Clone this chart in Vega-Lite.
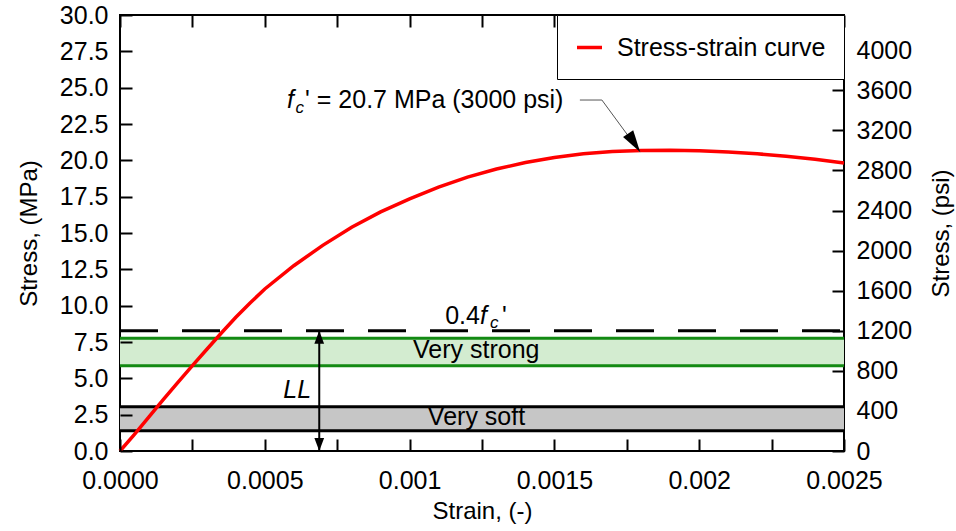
{
  "$schema": "https://vega.github.io/schema/vega-lite/v6.json",
  "width": 724,
  "height": 436,
  "autosize": {"type": "none"},
  "padding": {"left": 120, "top": 15, "right": 112, "bottom": 80},
  "background": "white",
  "config": {
    "font": "Liberation Sans",
    "view": {"stroke": "black", "strokeWidth": 2},
    "axis": {
      "labelFont": "Liberation Sans", "labelFontSize": 25, "labelColor": "black",
      "titleFont": "Liberation Sans", "titleFontSize": 24, "titleFontWeight": "normal", "titleColor": "black",
      "ticks": true, "tickColor": "black", "tickOpacity": 1, "tickWidth": 2, "tickSize": -12, "domain": false, "grid": false,
      "labelFlush": false, "labelOverlap": false, "zindex": 1
    }
  },
  "datasets": {
    "curve": [
      {"strain": 0, "stress": 0},
      {"strain": 0.00005, "stress": 1.15},
      {"strain": 0.0001, "stress": 2.35},
      {"strain": 0.00015, "stress": 3.55},
      {"strain": 0.0002, "stress": 4.72},
      {"strain": 0.00025, "stress": 5.88},
      {"strain": 0.0003, "stress": 7.0},
      {"strain": 0.00035, "stress": 8.12},
      {"strain": 0.0004, "stress": 9.2},
      {"strain": 0.00045, "stress": 10.2},
      {"strain": 0.0005, "stress": 11.15},
      {"strain": 0.0006, "stress": 12.75},
      {"strain": 0.0007, "stress": 14.15},
      {"strain": 0.0008, "stress": 15.4},
      {"strain": 0.0009, "stress": 16.45},
      {"strain": 0.001, "stress": 17.35},
      {"strain": 0.0011, "stress": 18.15},
      {"strain": 0.0012, "stress": 18.85},
      {"strain": 0.0013, "stress": 19.4},
      {"strain": 0.0014, "stress": 19.85},
      {"strain": 0.0015, "stress": 20.2},
      {"strain": 0.0016, "stress": 20.45},
      {"strain": 0.0017, "stress": 20.6},
      {"strain": 0.0018, "stress": 20.68},
      {"strain": 0.0019, "stress": 20.7},
      {"strain": 0.002, "stress": 20.66},
      {"strain": 0.0021, "stress": 20.58},
      {"strain": 0.0022, "stress": 20.45},
      {"strain": 0.0023, "stress": 20.28},
      {"strain": 0.0024, "stress": 20.08},
      {"strain": 0.0025, "stress": 19.82}
    ],
    "bands": [
      {"band": "Very soft", "lo": 1.4, "hi": 3.05},
      {"band": "Very strong", "lo": 5.87, "hi": 7.75}
    ]
  },
  "layer": [
    {
      "data": {"values": [{"psi": 0}, {"psi": 4351.13}]},
      "mark": {"type": "point", "opacity": 0},
      "encoding": {
        "x": {
          "datum": 0, "type": "quantitative",
          "scale": {"domain": [0, 0.0025], "nice": false, "zero": false},
          "axis": {
            "orient": "top",
            "values": [0, 0.00025, 0.0005, 0.00075, 0.001, 0.00125, 0.0015, 0.00175, 0.002, 0.00225, 0.0025],
            "labels": false,
            "ticks": true,
            "tickSize": -12,
            "title": null
          }
        },
        "y": {
          "field": "psi", "type": "quantitative",
          "scale": {"domain": [0, 4351.13], "nice": false},
          "axis": {
            "orient": "right",
            "values": [0, 400, 800, 1200, 1600, 2000, 2400, 2800, 3200, 3600, 4000],
            "format": "d",
            "labelPadding": 24,
            "labelOverlap": false,
            "ticks": true,
            "tickSize": -12,
            "title": "Stress,  (psi)",
            "titleAngle": 270,
            "titleBaseline": "top",
            "titlePadding": 18
          }
        }
      }
    },
    {
      "layer": [
        {
          "data": {"name": "bands"},
          "transform": [{"filter": "datum.band == 'Very strong'"}],
          "mark": {"type": "rect", "fill": "#d3ecd0"},
          "encoding": {
            "x": {"datum": 0, "type": "quantitative", "axis": null},
            "x2": {"datum": 0.0025},
            "y": {"field": "lo", "type": "quantitative", "scale": {"domain": [0, 30], "nice": false, "zero": true}, "axis": null},
            "y2": {"field": "hi"}
          }
        },
        {
          "data": {"name": "bands"},
          "transform": [{"filter": "datum.band == 'Very soft'"}],
          "mark": {"type": "rect", "fill": "#c6c6c6"},
          "encoding": {
            "x": {"datum": 0, "type": "quantitative", "axis": null},
            "x2": {"datum": 0.0025},
            "y": {"field": "lo", "type": "quantitative", "axis": null},
            "y2": {"field": "hi"}
          }
        },
        {
          "data": {"name": "bands"},
          "transform": [{"filter": "datum.band == 'Very strong'"}, {"fold": ["lo", "hi"], "as": ["edge", "stress"]}],
          "mark": {"type": "rule", "stroke": "#138a13", "strokeWidth": 3},
          "encoding": {
            "x": {"datum": 0, "type": "quantitative", "axis": null},
            "x2": {"datum": 0.0025},
            "y": {"field": "stress", "type": "quantitative", "axis": null}
          }
        },
        {
          "data": {"name": "bands"},
          "transform": [{"filter": "datum.band == 'Very soft'"}, {"fold": ["lo", "hi"], "as": ["edge", "stress"]}],
          "mark": {"type": "rule", "stroke": "black", "strokeWidth": 3},
          "encoding": {
            "x": {"datum": 0, "type": "quantitative", "axis": null},
            "x2": {"datum": 0.0025},
            "y": {"field": "stress", "type": "quantitative", "axis": null}
          }
        },
        {
          "data": {"values": [{"label": "0.4fc", "stress": 8.27}]},
          "mark": {"type": "rule", "stroke": "black", "strokeWidth": 3, "strokeDash": [38, 24]},
          "encoding": {
            "x": {"datum": 0, "type": "quantitative", "axis": null},
            "x2": {"datum": 0.0025},
            "y": {"field": "stress", "type": "quantitative", "axis": null}
          }
        },
        {
          "data": {"values": [{"strain": 0.000688, "lo": 0, "hi": 8.27}]},
          "mark": {"type": "rule", "stroke": "black", "strokeWidth": 2},
          "encoding": {
            "x": {"field": "strain", "type": "quantitative", "axis": null},
            "y": {"field": "lo", "type": "quantitative", "axis": null},
            "y2": {"field": "hi"}
          }
        },
        {
          "data": {"values": [{"strain": 0.000688, "stress": 0}]},
          "mark": {"type": "point", "shape": "M0,0L-0.75,-2L0.75,-2Z", "size": 169, "filled": true, "fill": "black", "opacity": 1, "strokeWidth": 0, "angle": 0},
          "encoding": {
            "x": {"field": "strain", "type": "quantitative", "axis": null},
            "y": {"field": "stress", "type": "quantitative", "axis": null}
          }
        },
        {
          "data": {"values": [{"strain": 0.000688, "stress": 8.27}]},
          "mark": {"type": "point", "shape": "M0,0L-0.75,-2L0.75,-2Z", "size": 169, "filled": true, "fill": "black", "opacity": 1, "strokeWidth": 0, "angle": 180},
          "encoding": {
            "x": {"field": "strain", "type": "quantitative", "axis": null},
            "y": {"field": "stress", "type": "quantitative", "axis": null}
          }
        },
        {
          "data": {"name": "curve"},
          "mark": {"type": "line", "strokeWidth": 3.5},
          "encoding": {
            "x": {"field": "strain", "type": "quantitative", "axis": null},
            "y": {"field": "stress", "type": "quantitative", "axis": null},
            "color": {
              "datum": "Stress-strain curve",
              "type": "nominal",
              "scale": {"range": ["#ff0000"]},
              "legend": {
                "title": null, "orient": "top-right", "offset": 0, "padding": 18,
                "strokeColor": "black", "fillColor": "white",
                "labelFontSize": 25, "labelFont": "Liberation Sans", "labelColor": "black", "labelLimit": 500,
                "symbolType": "stroke", "symbolSize": 625, "symbolStrokeWidth": 3.5, "labelOffset": 13
              }
            }
          }
        },
        {
          "data": {"values": [{"strain": 0.001588, "stress": 24.15}, {"strain": 0.001664, "stress": 24.15}, {"strain": 0.001796, "stress": 20.57}]},
          "mark": {"type": "line", "stroke": "#555555", "strokeWidth": 1},
          "encoding": {
            "x": {"field": "strain", "type": "quantitative", "axis": null},
            "y": {"field": "stress", "type": "quantitative", "axis": null}
          }
        },
        {
          "data": {"values": [{"strain": 0.001796, "stress": 20.57}]},
          "mark": {"type": "point", "shape": "M0,0L-0.55,-2L0.55,-2Z", "size": 484, "filled": true, "fill": "black", "opacity": 1, "strokeWidth": 0, "angle": -33},
          "encoding": {
            "x": {"field": "strain", "type": "quantitative", "axis": null},
            "y": {"field": "stress", "type": "quantitative", "axis": null}
          }
        },
        {
          "data": {"values": [{"t": "' = 20.7 MPa (3000 psi)", "strain": 0.000639, "stress": 23.58}, {"t": "'", "strain": 0.001319, "stress": 8.74}]},
          "mark": {"type": "text", "align": "left", "baseline": "alphabetic", "fontSize": 25, "font": "Liberation Sans", "color": "black"},
          "encoding": {
            "x": {"field": "strain", "type": "quantitative", "axis": null},
            "y": {"field": "stress", "type": "quantitative", "axis": null},
            "text": {"field": "t"}
          }
        },
        {
          "data": {"values": [{"t": "0.4", "strain": 0.001243, "stress": 8.74}]},
          "mark": {"type": "text", "align": "right", "baseline": "alphabetic", "fontSize": 25, "font": "Liberation Sans", "color": "black"},
          "encoding": {
            "x": {"field": "strain", "type": "quantitative", "axis": null},
            "y": {"field": "stress", "type": "quantitative", "axis": null},
            "text": {"field": "t"}
          }
        },
        {
          "data": {"values": [{"t": "f", "strain": 0.000577, "stress": 23.58}, {"t": "f", "strain": 0.001243, "stress": 8.74}]},
          "mark": {"type": "text", "align": "left", "baseline": "alphabetic", "fontSize": 25, "fontStyle": "italic", "font": "Liberation Sans", "color": "black"},
          "encoding": {
            "x": {"field": "strain", "type": "quantitative", "axis": null},
            "y": {"field": "stress", "type": "quantitative", "axis": null},
            "text": {"field": "t"}
          }
        },
        {
          "data": {"values": [{"t": "c", "strain": 0.000606, "stress": 23.26}, {"t": "c", "strain": 0.001278, "stress": 8.44}]},
          "mark": {"type": "text", "align": "left", "baseline": "alphabetic", "fontSize": 17, "fontStyle": "italic", "font": "Liberation Sans", "color": "black"},
          "encoding": {
            "x": {"field": "strain", "type": "quantitative", "axis": null},
            "y": {"field": "stress", "type": "quantitative", "axis": null},
            "text": {"field": "t"}
          }
        },
        {
          "data": {"values": [{"t": "Very strong", "strain": 0.00123, "stress": 6.38}, {"t": "Very soft", "strain": 0.001231, "stress": 1.79}]},
          "mark": {"type": "text", "align": "center", "baseline": "alphabetic", "fontSize": 25, "font": "Liberation Sans", "color": "black"},
          "encoding": {
            "x": {"field": "strain", "type": "quantitative", "axis": null},
            "y": {"field": "stress", "type": "quantitative", "axis": null},
            "text": {"field": "t"}
          }
        },
        {
          "data": {"values": [{"t": "LL", "strain": 0.00066, "stress": 3.65}]},
          "mark": {"type": "text", "align": "right", "baseline": "alphabetic", "fontSize": 25, "fontStyle": "italic", "font": "Liberation Sans", "color": "black"},
          "encoding": {
            "x": {"field": "strain", "type": "quantitative", "axis": null},
            "y": {"field": "stress", "type": "quantitative", "axis": null},
            "text": {"field": "t"}
          }
        }
      ]
    },
    {
      "data": {"values": [{"stress": 0}, {"stress": 30}]},
      "mark": {"type": "point", "opacity": 0},
      "encoding": {
        "x": {
          "datum": 0, "type": "quantitative",
          "axis": {
            "orient": "bottom",
            "values": [0, 0.00025, 0.0005, 0.00075, 0.001, 0.00125, 0.0015, 0.00175, 0.002, 0.00225, 0.0025],
            "labelExpr": "abs(datum.value/0.0005 - round(datum.value/0.0005)) < 0.001 ? (datum.value == 0 ? '0.0000' : format(datum.value, '~g')) : ''",
            "labelPadding": 29,
            "labelOverlap": false,
            "ticks": true,
            "tickSize": -12,
            "tickColor": "black",
            "tickWidth": 2,
            "tickOpacity": 1,
            "zindex": 2,
            "title": "Strain, (-)",
            "titlePadding": 6
          }
        },
        "y": {
          "field": "stress", "type": "quantitative",
          "scale": {"domain": [0, 30], "nice": false, "zero": true},
          "axis": {
            "orient": "left",
            "values": [0, 2.5, 5, 7.5, 10, 12.5, 15, 17.5, 20, 22.5, 25, 27.5, 30],
            "format": ".1f",
            "labelPadding": 24,
            "labelOverlap": false,
            "ticks": true,
            "tickSize": -12,
            "tickColor": "black",
            "tickWidth": 2,
            "tickOpacity": 1,
            "zindex": 2,
            "title": "Stress,  (MPa)",
            "titlePadding": 18
          }
        }
      }
    }
  ],
  "resolve": {"scale": {"y": "independent"}, "axis": {"x": "independent"}}
}
